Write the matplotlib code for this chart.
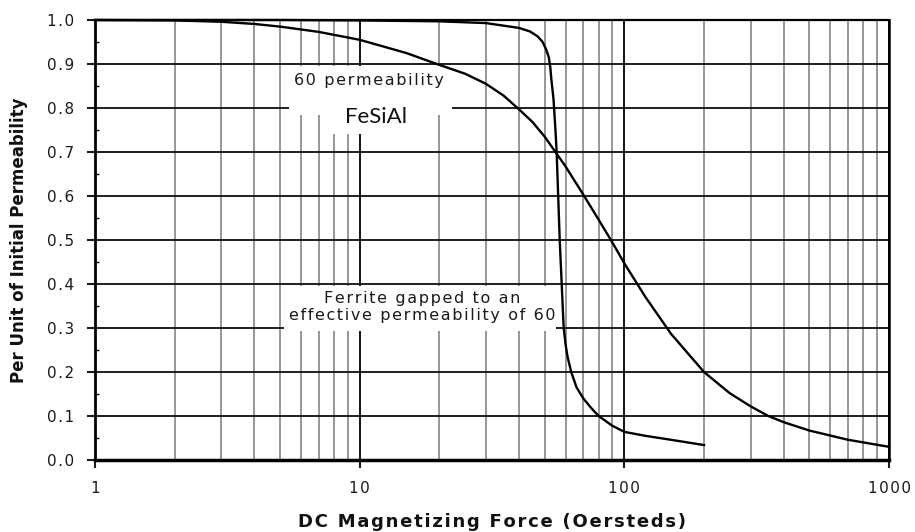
import matplotlib
matplotlib.use('Agg')
from matplotlib import pyplot as plt
from matplotlib import ticker
from matplotlib.patches import Rectangle

# FeSiAl 60 permeability curve
fesial_h = [1, 2, 3, 4, 5, 7, 10, 15, 20, 25, 30, 35, 40, 45, 50, 60, 70, 80,
            90, 100, 120, 150, 200, 250, 300, 350, 400, 500, 700, 1000]
fesial_mu = [1.0, 0.999, 0.996, 0.991, 0.985, 0.973, 0.955, 0.925, 0.898, 0.878,
             0.855, 0.828, 0.797, 0.768, 0.735, 0.667, 0.603, 0.546, 0.495, 0.447,
             0.371, 0.287, 0.20, 0.152, 0.122, 0.10, 0.086, 0.067, 0.046, 0.03]

# gapped ferrite curve
ferrite_h = [1, 5, 10, 20, 30, 40, 44, 47, 49, 50.5, 51.8, 52.5, 53, 54, 54.8,
             55.5, 57, 59, 60, 61, 63, 66, 70, 75, 80, 90, 100, 120, 150, 200]
ferrite_mu = [1.0, 1.0, 0.999, 0.997, 0.993, 0.982, 0.974, 0.963, 0.951, 0.935,
              0.916, 0.893, 0.865, 0.82, 0.76, 0.70, 0.50, 0.30, 0.262, 0.235,
              0.20, 0.165, 0.14, 0.118, 0.10, 0.078, 0.064, 0.055, 0.046, 0.034]

x_ticks = [1, 10, 100, 1000]
x_tick_labels = ['1', '10', '100', '1000']
y_ticks = [0.0, 0.1, 0.2, 0.3, 0.4, 0.5, 0.6, 0.7, 0.8, 0.9, 1.0]
y_tick_labels = ['0.0', '0.1', '0.2', '0.3', '0.4', '0.5', '0.6', '0.7', '0.8', '0.9', '1.0']

plt.rcParams['font.family'] = ['DejaVu Sans']

HAIR = '\u200a'


# 字间距加宽
def spaced(text, gap=HAIR):
    return gap.join(text)


fig = plt.figure(figsize=(9.15, 5.32), dpi=100)
ax = fig.add_axes([0.1038, 0.1353, 0.8678, 0.8271])

ax.set_xscale('log')
ax.set_xlim(1, 1000)
ax.set_ylim(0, 1)

ax.plot(fesial_h, fesial_mu, color='black', lw=1.7, zorder=3,
        solid_joinstyle='round', clip_on=False)
ax.plot(ferrite_h, ferrite_mu, color='black', lw=1.7, zorder=3,
        solid_joinstyle='round', clip_on=False)

# grid
ax.set_axisbelow(True)
ax.xaxis.set_minor_locator(ticker.LogLocator(base=10, subs=range(2, 10)))
ax.xaxis.set_minor_formatter(ticker.NullFormatter())
ax.yaxis.set_minor_locator(ticker.MultipleLocator(0.05))
ax.xaxis.grid(True, which='major', color='black', lw=1.3)
ax.xaxis.grid(True, which='minor', color='#7a7a7a', lw=1.1)
ax.yaxis.grid(True, which='major', color='#1e1e1e', lw=1.4)

ax.set_xticks(x_ticks)
ax.set_xticklabels([spaced(t) for t in x_tick_labels])
ax.set_yticks(y_ticks)
ax.set_yticklabels([spaced(t) for t in y_tick_labels])

ax.tick_params(axis='both', which='major', direction='out', length=6,
               width=1.5, pad=9, labelsize=11, colors='#1a1a1a')
ax.tick_params(axis='x', which='minor', length=0)
ax.tick_params(axis='y', which='minor', direction='in', length=3, width=1)

ax.spines['left'].set_linewidth(2.0)
ax.spines['bottom'].set_linewidth(2.5)
ax.spines['top'].set_linewidth(1.6)
ax.spines['right'].set_linewidth(1.8)

# white boxes behind annotations
for (x0, x1, y0, y1) in [(5.43, 22.3, 0.784, 0.895),
                         (7.48, 16.8, 0.741, 0.784),
                         (5.2, 55.0, 0.293, 0.395)]:
    ax.add_patch(Rectangle((x0, y0), x1 - x0, y1 - y0, facecolor='white',
                           edgecolor='none', zorder=1.5))

ax.text(10.86, 0.8636, spaced('60 permeability'), ha='center', va='center',
        fontsize=11.5, color='#1a1a1a', zorder=4)
ax.text(11.5, 0.7795, 'FeSiAl', ha='center', va='center', fontsize=16,
        family=['Lato', 'DejaVu Sans'], color='#111111', zorder=4)
ax.text(17.2, 0.3477,
        spaced('Ferrite gapped to an') + '\n' + spaced('effective permeability of 60'),
        ha='center', va='center', fontsize=11.5, linespacing=1.2,
        color='#1a1a1a', zorder=4)

ax.set_xlabel(spaced('DC Magnetizing Force (Oersteds)'),
              fontsize=13, fontweight='bold', color='#111111')
ax.xaxis.set_label_coords(0.5, -0.1205)
ax.set_ylabel('Per Unit of Initial Permeability',
              fontsize=12, fontweight='bold', color='#111111')
ax.yaxis.set_label_coords(-0.0844, 0.5)

plt.savefig('out.png', dpi=100)
